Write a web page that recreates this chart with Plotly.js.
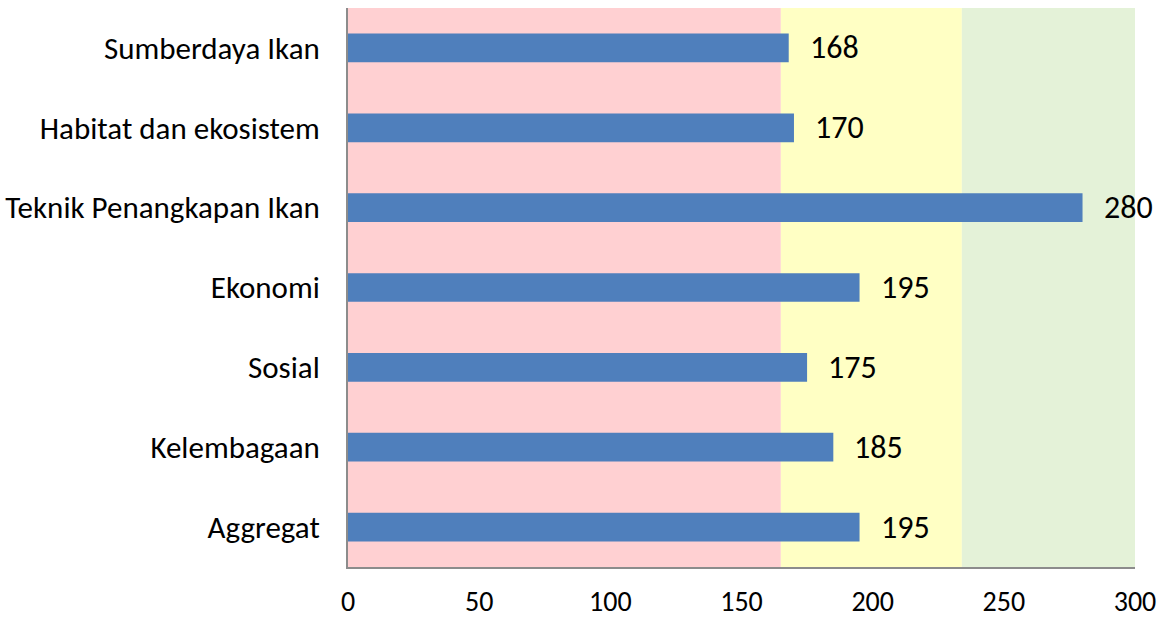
<!DOCTYPE html>
<html><head><meta charset="utf-8">
<script src="https://cdn.plot.ly/plotly-3.0.1.min.js"></script>
<style>body{margin:0;background:#fff}#chart{width:1164px;height:621px}</style>
</head><body><div id="chart"></div>
<script>
const categories = ["Sumberdaya Ikan","Habitat dan ekosistem","Teknik Penangkapan Ikan","Ekonomi","Sosial","Kelembagaan","Aggregat"];
const values = [168,170,280,195,175,185,195];
const zoneEdges = [0,165,234,300];
const zoneColors = ["#FFD0D2","#FFFFC4","#E4F2D8"];
const xTicks = [0,50,100,150,200,250,300];

const font = "Carlito, Calibri, 'Open Sans', sans-serif";
const shapes = zoneColors.map((c,i)=>({type:"rect",xref:"x",yref:"paper",x0:zoneEdges[i],x1:zoneEdges[i+1],y0:0,y1:1,fillcolor:c,line:{width:0},layer:"below"}));
const annotations = categories.map((c,i)=>({x:values[i],y:c,xref:"x",yref:"y",text:String(values[i]),showarrow:false,xanchor:"left",xshift:19,font:{family:font,size:32,color:"#000"}}));

Plotly.newPlot("chart",[{type:"bar",orientation:"h",y:categories,x:values,marker:{color:"#4F7FBC"},hoverinfo:"none"}],{
  width:1164,height:621,
  margin:{l:348,r:29,t:8,b:54},
  paper_bgcolor:"#fff",plot_bgcolor:"rgba(0,0,0,0)",
  bargap:0.64,showlegend:false,
  shapes:shapes,annotations:annotations,
  xaxis:{range:[0,300],tickvals:xTicks,ticks:"",showgrid:false,zeroline:false,showline:true,linecolor:"#8c8c8c",linewidth:2,ticklabelstandoff:8,tickfont:{family:font,size:28,color:"#000"}},
  yaxis:{autorange:"reversed",ticks:"",showgrid:false,zeroline:false,showline:true,linecolor:"#8c8c8c",linewidth:2,ticklabelstandoff:20,tickfont:{family:font,size:31,color:"#000"}}
},{staticPlot:true});
</script></body></html>
